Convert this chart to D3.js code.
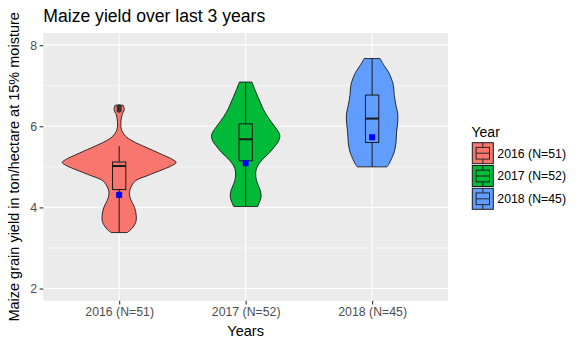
<!DOCTYPE html>
<html><head><meta charset="utf-8">
<script src="https://cdn.jsdelivr.net/npm/d3@7"></script>
<style>body{margin:0;background:#fff}svg{display:block}text{font-family:"Liberation Sans",Arial,sans-serif}</style>
</head><body><svg id="c" width="581" height="345"></svg>
<script>
// ---- data ----
const categories = ["2016 (N=51)", "2017 (N=52)", "2018 (N=45)"];
const colors = ["#F8766D", "#00BA38", "#619CFF"];
const yTicks = [2, 4, 6, 8];
const yMinor = [3, 5, 7];
// violin outline: yield level and relative density
const yield2016 = [3.38,3.46,3.63,3.80,4.00,4.17,4.32,4.48,4.66,4.78,4.93,5.04,5.11,5.18,5.30,5.47,5.64,5.76,5.92,6.10,6.28,6.41,6.52];
const dens2016  = [0.14,0.21,0.29,0.30,0.27,0.21,0.18,0.20,0.29,0.49,0.76,0.94,1.00,0.94,0.76,0.49,0.23,0.11,0.04,0.03,0.05,0.09,0.07];
const yield2017 = [4.02,4.12,4.25,4.41,4.58,4.74,4.90,5.02,5.19,5.35,5.52,5.64,5.78,5.92,6.09,6.25,6.42,6.58,6.74,6.91,7.09];
const dens2017  = [0.21,0.24,0.27,0.26,0.21,0.18,0.18,0.21,0.30,0.42,0.52,0.58,0.60,0.55,0.46,0.38,0.31,0.26,0.21,0.16,0.11];
const yield2018 = [5.00,5.08,5.20,5.37,5.61,5.86,6.10,6.31,6.51,6.76,7.00,7.17,7.33,7.50,7.67];
const dens2018  = [0.26,0.30,0.34,0.39,0.42,0.43,0.45,0.45,0.42,0.39,0.375,0.34,0.29,0.21,0.14];
// box stats
const whiskLo = [3.38, 4.02, 5.00];
const q1      = [4.44, 5.15, 5.60];
const median  = [5.02, 5.68, 6.19];
const q3      = [5.12, 6.06, 6.77];
const whiskHi = [5.51, 7.09, 7.67];
const means   = [4.31, 5.09, 5.73];
const outliers = [[6.48, 6.40], [], []];

const yields = [yield2016, yield2017, yield2018];
const dens = [dens2016, dens2017, dens2018];

// ---- layout ----
const svg = d3.select("#c");
const L = 43.3, R = 448, T = 33, B = 300.7;
const x = d3.scalePoint().domain(categories).range([L, R]).padding(0.6);
const y = d3.scaleLinear().domain([1.7, 8.3]).range([B, T]);
const step = x.step();
const maxD = d3.max(dens.flat());
const w = d3.scaleLinear().domain([0, maxD]).range([0, 0.45 * step]);

svg.append("rect").attr("x", L).attr("y", T).attr("width", R - L).attr("height", B - T).attr("fill", "#EBEBEB");
const g = svg.append("g");
g.selectAll(".mn").data(yMinor).join("line").attr("x1", L).attr("x2", R)
  .attr("y1", d => y(d)).attr("y2", d => y(d)).attr("stroke", "#fff").attr("stroke-width", 0.55);
g.selectAll(".mj").data(yTicks).join("line").attr("x1", L).attr("x2", R)
  .attr("y1", d => y(d)).attr("y2", d => y(d)).attr("stroke", "#fff").attr("stroke-width", 1.1);
g.selectAll(".vx").data(categories).join("line").attr("y1", T).attr("y2", B)
  .attr("x1", d => x(d)).attr("x2", d => x(d)).attr("stroke", "#fff").attr("stroke-width", 1.1);

// axes
const ya = svg.append("g").attr("transform", `translate(${L},0)`)
  .call(d3.axisLeft(y).tickValues(yTicks).tickFormat(d3.format("d")).tickSize(3.7).tickPadding(2.5));
const xa = svg.append("g").attr("transform", `translate(0,${B})`)
  .call(d3.axisBottom(x).tickSize(3.7).tickPadding(3));
[ya, xa].forEach(a => {
  a.select(".domain").remove();
  a.selectAll(".tick line").attr("stroke", "#333").attr("stroke-width", 1.1);
  a.selectAll(".tick text").attr("fill", "#4D4D4D").style("font-size", "12.3px").style("font-family", '"Liberation Sans",Arial,sans-serif');
});

// violins
const area = d3.area().curve(d3.curveCatmullRom.alpha(0.5));
categories.forEach((c, i) => {
  const cx = x(c);
  const pts = yields[i].map((v, k) => ({v, d: dens[i][k]}));
  area.y(p => y(p.v)).x0(p => cx - w(p.d)).x1(p => cx + w(p.d));
  svg.append("path").attr("d", area(pts)).attr("fill", colors[i])
    .attr("stroke", "#1a1a1a").attr("stroke-width", 0.9);
  const bw = 0.105 * step;
  const bx = svg.append("g").attr("stroke", "#1a1a1a").attr("fill", "none");
  bx.append("line").attr("x1", cx).attr("x2", cx).attr("y1", y(q3[i])).attr("y2", y(whiskHi[i])).attr("stroke-width", 1);
  bx.append("line").attr("x1", cx).attr("x2", cx).attr("y1", y(q1[i])).attr("y2", y(whiskLo[i])).attr("stroke-width", 1);
  bx.append("rect").attr("x", cx - bw / 2).attr("width", bw).attr("y", y(q3[i]))
    .attr("height", y(q1[i]) - y(q3[i])).attr("stroke-width", 1);
  bx.append("line").attr("x1", cx - bw / 2).attr("x2", cx + bw / 2)
    .attr("y1", y(median[i])).attr("y2", y(median[i])).attr("stroke-width", 2);
  outliers[i].forEach(o => svg.append("circle").attr("cx", cx).attr("cy", y(o)).attr("r", 2.6).attr("fill", "#333"));
  svg.append("rect").attr("x", cx - 3).attr("y", y(means[i]) - 3).attr("width", 6).attr("height", 6).attr("fill", "#0000FF");
});

// titles
svg.append("text").attr("x", L).attr("y", 22).style("font-size", "17.6px").attr("fill", "#000").text("Maize yield over last 3 years");
svg.append("text").attr("x", (L + R) / 2).attr("y", 336).attr("text-anchor", "middle").style("font-size", "14.5px").text("Years");
svg.append("text").attr("transform", `translate(18.5,${(T + B) / 2}) rotate(-90)`).attr("text-anchor", "middle")
  .style("font-size", "14.5px").text("Maize grain yield in ton/hectare at 15% moisture");

// legend
const lg = svg.append("g");
lg.append("text").attr("x", 471.5).attr("y", 137).style("font-size", "14px").text("Year");
categories.forEach((c, i) => {
  const ky = 142.7 + i * 22.8, kx = 472.3, ks = 21;
  lg.append("rect").attr("x", kx).attr("y", ky).attr("width", ks).attr("height", ks)
    .attr("fill", colors[i]).attr("stroke", "#1a1a1a").attr("stroke-width", 1);
  const k = lg.append("g").attr("stroke", "#1a1a1a").attr("fill", "none").attr("stroke-width", 0.9);
  k.append("rect").attr("x", kx + ks * 0.18).attr("y", ky + ks * 0.22).attr("width", ks * 0.64).attr("height", ks * 0.56);
  k.append("line").attr("x1", kx + ks * 0.18).attr("x2", kx + ks * 0.82).attr("y1", ky + ks * 0.5).attr("y2", ky + ks * 0.5);
  k.append("line").attr("x1", kx + ks / 2).attr("x2", kx + ks / 2).attr("y1", ky).attr("y2", ky + ks * 0.22);
  k.append("line").attr("x1", kx + ks / 2).attr("x2", kx + ks / 2).attr("y1", ky + ks * 0.78).attr("y2", ky + ks);
  lg.append("text").attr("x", 497.3).attr("y", ky + ks / 2 + 4.4).style("font-size", "12.3px").attr("fill", "#000").text(c);
});
</script></body></html>
